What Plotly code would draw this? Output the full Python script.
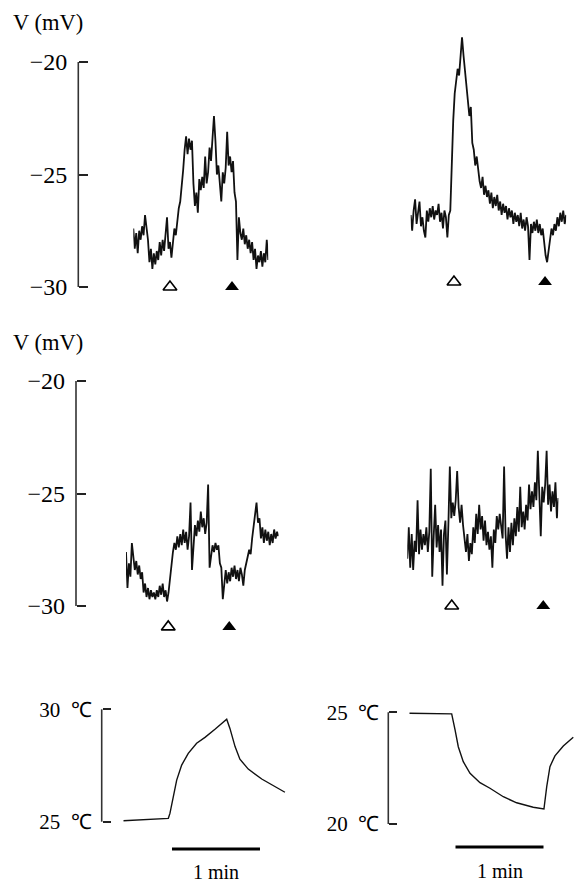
import plotly.graph_objects as go

W, H = 576, 882
PPS = 88 / 60.0  # pixels per second of recording (1 min bar = 88 px)

# ---------------- data ----------------
# membrane potential traces, sampled every 1 s (mV)
tl_v = [-27.4, -28.3, -27.6, -28.5, -27.5, -27.9, -27.3, -27.7, -26.8, -27.4,
        -27.9, -28.9, -28.3, -29.2, -28.5, -29.0, -28.4, -28.8, -28.0, -28.6,
        -27.9, -28.4, -27.8, -26.9, -28.3, -28.0, -28.7, -28.1, -27.4, -27.7,
        -26.9, -26.5, -26.2, -25.6, -24.8, -23.9, -23.3, -24.1, -23.4, -23.9,
        -23.5, -25.4, -26.4, -25.8, -26.7, -25.2, -25.7, -25.1, -25.6, -24.2,
        -25.4, -24.9, -23.8, -24.4, -23.1, -22.4, -23.5, -25.0, -24.6, -25.6,
        -26.2, -24.9, -25.4, -24.7, -23.1, -24.6, -24.2, -24.9, -24.4, -25.8,
        -26.2, -28.8, -26.9, -27.6, -27.9, -27.4, -28.1, -27.7, -28.3, -27.9,
        -28.5, -28.0, -28.8, -28.3, -29.2, -28.6, -28.9, -28.4, -29.1, -28.5,
        -28.9, -27.9, -28.8]
tr_v = [-26.8, -27.5, -26.6, -26.1, -27.2, -26.7, -26.2, -27.3, -26.9, -27.5,
        -27.8, -26.6, -27.1, -26.5, -26.9, -26.4, -27.0, -26.6, -26.8, -26.3,
        -27.1, -26.7, -27.4, -26.6, -26.9, -27.8, -26.8, -26.6, -24.5, -22.6,
        -21.4, -20.9, -20.3, -20.6, -19.8, -18.9, -19.7, -20.3, -21.1, -21.5,
        -22.4, -22.0, -23.6, -23.9, -24.6, -24.2, -24.9, -25.3, -25.6, -25.1,
        -25.9, -25.5, -26.0, -25.7, -26.3, -25.8, -26.5, -26.0, -26.4, -25.9,
        -26.6, -26.2, -26.8, -26.3, -26.7, -26.4, -27.0, -26.5, -26.9, -26.6,
        -27.2, -26.7, -27.1, -26.8, -27.3, -26.7, -27.4, -27.0, -27.5, -26.9,
        -27.3, -28.8, -27.2, -27.6, -27.1, -27.5, -27.0, -27.6, -27.2, -27.7,
        -27.4, -28.1, -28.6, -28.9, -28.3, -27.8, -27.4, -27.7, -27.2, -27.5,
        -26.9, -27.3, -26.7, -27.1, -26.6, -27.2, -26.8]
ml_v = [-27.6, -29.2, -28.1, -28.7, -27.2, -27.9, -28.4, -28.0, -28.6, -28.2,
        -28.8, -28.5, -29.4, -29.0, -29.6, -29.2, -29.7, -29.3, -29.6, -29.4,
        -29.7, -29.3, -29.6, -29.1, -29.5, -29.0, -29.6, -29.3, -29.8, -29.4,
        -28.7, -28.0, -27.6, -27.2, -27.5, -26.9, -27.4, -26.8, -27.3, -26.6,
        -27.2, -26.7, -27.5, -26.9, -25.4, -28.4, -27.1, -26.4, -26.9, -26.2,
        -26.7, -25.8, -26.5, -26.1, -26.8, -26.3, -24.6, -28.3, -27.8, -27.3,
        -27.6, -27.2, -27.5, -27.3, -28.1, -28.3, -29.7, -28.9, -28.4, -29.0,
        -28.5, -28.9, -28.3, -28.7, -28.2, -28.8, -28.4, -28.9, -28.3, -28.6,
        -29.1, -28.4, -28.0, -27.8, -27.5, -27.7, -27.0, -26.4, -25.8, -25.4,
        -26.3, -26.1, -27.0, -26.5, -27.2, -26.6, -27.1, -26.7, -27.3, -26.8,
        -27.2, -26.6, -27.0, -26.7, -26.9]
mr_v = [-27.9, -26.5, -28.3, -26.8, -28.4, -27.1, -27.6, -25.3, -27.7, -26.6,
        -27.5, -26.8, -27.3, -26.5, -27.6, -26.7, -23.9, -28.7, -26.9, -25.5,
        -27.4, -26.4, -27.6, -26.6, -29.1, -26.8, -26.2, -28.6, -26.4, -23.8,
        -26.1, -25.4, -26.0, -25.3, -24.0, -25.6, -26.3, -25.5, -26.4, -27.0,
        -27.6, -26.8, -28.0, -27.2, -27.7, -26.5, -27.2, -25.9, -26.8, -25.5,
        -26.6, -26.0, -27.1, -26.2, -27.3, -26.7, -27.5, -26.9, -28.3, -26.6,
        -27.2, -26.0, -26.6, -25.9, -26.4, -27.0, -23.8, -26.8, -27.9, -26.5,
        -27.6, -26.3, -27.3, -26.1, -26.9, -25.6, -26.7, -24.7, -26.5, -25.8,
        -26.6, -25.5, -26.2, -24.6, -25.7, -24.9, -25.6, -24.5, -25.3, -23.1,
        -25.0, -26.9, -24.7, -25.4, -24.6, -23.1, -25.5, -24.6, -25.8, -24.9,
        -25.6, -24.5, -26.1, -25.2]

# temperature records (s, degC)
tl_temp_t = [0, 15.0, 30.7, 31.8, 34.1, 36.4, 39.8, 44.3, 50.0, 55.7, 62.5,
             67.1, 70.5, 72.7, 76.2, 79.5, 85.2, 94.4, 102.3, 110.2]
tl_temp_T = [25.04, 25.09, 25.15, 25.37, 26.11, 26.85, 27.52, 28.04, 28.49,
             28.75, 29.11, 29.38, 29.56, 29.15, 28.34, 27.78, 27.34, 26.90,
             26.59, 26.31]
tr_temp_t = [0, 28.9, 31.2, 33.4, 36.8, 41.4, 48.2, 55.0, 64.1, 73.2, 84.5,
             91.8, 93.7, 95.9, 99.3, 105.0, 111.8]
tr_temp_T = [24.96, 24.93, 24.21, 23.46, 22.79, 22.27, 21.85, 21.60, 21.22,
             20.95, 20.75, 20.67, 21.67, 22.57, 23.05, 23.49, 23.88]

# stimulus on (open triangle) / off (filled triangle) times (s)
tl_marks = [25.0, 67.3]
tr_marks = [29.5, 91.6]
ml_marks = [28.8, 70.4]
mr_marks = [30.3, 92.7]

v_ticks = [-30, -25, -20]
v_ticktext = ["\u221230", "\u221225", "\u221220"]
tl_ticks = [25, 30]
tl_ticktext = ["25\u2002\u2103", "30\u2002\u2103"]
tr_ticks = [20, 25]
tr_ticktext = ["20\u2002\u2103", "25\u2002\u2103"]

# ---------------- layout helpers ----------------
FONT = "Liberation Serif"


def xdom(px0, t0, t1):
    return [px0 / W, min(1.0, (px0 + (t1 - t0) * PPS) / W)]


def ydom(p_a, v_a, p_b, v_b, lo, hi):
    s = (p_b - p_a) / (v_a - v_b)
    top = p_a - (hi - v_a) * s
    bot = p_a + (v_a - lo) * s
    return [1 - bot / H, 1 - top / H]


fig = go.Figure()

line_kw = dict(color="#111111", width=1.8)
panels = [
    (tl_v, "x", "y"),
    (tr_v, "x2", "y2"),
    (ml_v, "x3", "y3"),
    (mr_v, "x4", "y4"),
]
for vals, xa, ya in panels:
    fig.add_trace(go.Scatter(x=list(range(len(vals))), y=vals, mode="lines",
                             line=line_kw, xaxis=xa, yaxis=ya, hoverinfo="skip"))

fig.add_trace(go.Scatter(x=tl_temp_t, y=tl_temp_T, mode="lines",
                         line=dict(color="#111111", width=1.4),
                         xaxis="x5", yaxis="y5", hoverinfo="skip"))
fig.add_trace(go.Scatter(x=tr_temp_t, y=tr_temp_T, mode="lines",
                         line=dict(color="#111111", width=1.4),
                         xaxis="x6", yaxis="y6", hoverinfo="skip"))

# triangle markers
mark_y = {"x": -30.0, "x2": -29.78, "x3": -30.93, "x4": -30.0}
for marks, xa, ya in [(tl_marks, "x", "y"), (tr_marks, "x2", "y2"),
                      (ml_marks, "x3", "y3"), (mr_marks, "x4", "y4")]:
    fig.add_trace(go.Scatter(x=[marks[0]], y=[mark_y[xa]], mode="markers",
                             marker=dict(symbol="triangle-up-open", size=12,
                                         color="black", line=dict(width=1.6, color="black")),
                             xaxis=xa, yaxis=ya, cliponaxis=False, hoverinfo="skip"))
    fig.add_trace(go.Scatter(x=[marks[1]], y=[mark_y[xa]], mode="markers",
                             marker=dict(symbol="triangle-up", size=12, color="black",
                                         line=dict(width=0)),
                             xaxis=xa, yaxis=ya, cliponaxis=False, hoverinfo="skip"))

hidden_x = dict(visible=False, showgrid=False, zeroline=False)


def vis_y(pos_px, dom, rng, tv, tt, ticklen=9, size=24, standoff=11):
    return dict(domain=dom, range=rng, anchor="free", position=pos_px / W,
                side="left", showline=False, showgrid=False, zeroline=False,
                ticks="inside", ticklen=ticklen, tickwidth=1.6, tickcolor="#222222",
                tickvals=tv, ticktext=tt,
                tickfont=dict(family=FONT, size=size, color="black"),
                ticklabelstandoff=standoff)


VR = [-31.5, -18.0]
top_dom = ydom(62, -20, 287, -30, VR[0], VR[1])
mid_dom = ydom(381, -20, 606, -30, VR[0], VR[1])
TL_R = [24.5, 30.5]
TR_R = [19.5, 25.5]
bl_dom = ydom(709.3, 30, 821.7, 25, TL_R[0], TL_R[1])
br_dom = ydom(712.3, 25, 824.0, 20, TR_R[0], TR_R[1])

fig.update_layout(
    width=W, height=H,
    margin=dict(l=0, r=0, t=0, b=0),
    paper_bgcolor="white", plot_bgcolor="white",
    showlegend=False,
    xaxis=dict(domain=xdom(133.3, 0, 92), range=[0, 92], **hidden_x),
    xaxis2=dict(domain=xdom(410.7, 0, 106), range=[0, 106], **hidden_x),
    xaxis3=dict(domain=xdom(126.0, 0, 104), range=[0, 104], **hidden_x),
    xaxis4=dict(domain=xdom(407.3, 0, 103), range=[0, 103], **hidden_x),
    xaxis5=dict(domain=xdom(123.3, 0, 111), range=[0, 111], **hidden_x),
    xaxis6=dict(domain=xdom(409.3, 0, 113), range=[0, 113], **hidden_x),
    yaxis=vis_y(78.3, top_dom, VR, v_ticks, v_ticktext),
    yaxis2=dict(domain=top_dom, range=VR, anchor="x2", visible=False),
    yaxis3=vis_y(76.0, mid_dom, VR, v_ticks, v_ticktext),
    yaxis4=dict(domain=mid_dom, range=VR, anchor="x4", visible=False),
    yaxis5=vis_y(101.7, bl_dom, TL_R, tl_ticks, tl_ticktext, ticklen=8, size=21, standoff=10),
    yaxis6=vis_y(388.3, br_dom, TR_R, tr_ticks, tr_ticktext, ticklen=8, size=21, standoff=9),
)

# bracket lines of the scale axes
shapes = []
for ya, xpx, lo, hi in [("y", 78.3, -30, -20), ("y3", 76.0, -30, -20),
                        ("y5", 101.7, 25, 30), ("y6", 388.3, 20, 25)]:
    shapes.append(dict(type="line", xref="paper", yref=ya, x0=xpx / W, x1=xpx / W,
                       y0=lo, y1=hi, line=dict(color="#333333", width=1.6)))
# 1 min scale bars
shapes.append(dict(type="line", xref="x5", yref="paper", x0=33.2, x1=93.2,
                   y0=1 - 849 / H, y1=1 - 849 / H, line=dict(color="black", width=3)))
shapes.append(dict(type="line", xref="x6", yref="paper", x0=31.5, x1=91.5,
                   y0=1 - 847 / H, y1=1 - 847 / H, line=dict(color="black", width=3)))
fig.update_layout(shapes=shapes)

ann_font = dict(family=FONT, size=22.5, color="black")
fig.update_layout(annotations=[
    dict(text="V (mV)", xref="paper", yref="paper", x=48 / W, y=1 - 23 / H,
         showarrow=False, xanchor="center", yanchor="middle", font=ann_font),
    dict(text="V (mV)", xref="paper", yref="paper", x=48 / W, y=1 - 343 / H,
         showarrow=False, xanchor="center", yanchor="middle", font=ann_font),
    dict(text="1 min", xref="x5", yref="paper", x=63.2, y=1 - 872 / H,
         showarrow=False, xanchor="center", yanchor="middle",
         font=dict(family=FONT, size=20, color="black")),
    dict(text="1 min", xref="x6", yref="paper", x=61.5, y=1 - 871 / H,
         showarrow=False, xanchor="center", yanchor="middle",
         font=dict(family=FONT, size=20, color="black")),
])

fig.write_html("out.html", config={"displayModeBar": False},
               post_script="document.body.style.margin='0';")
